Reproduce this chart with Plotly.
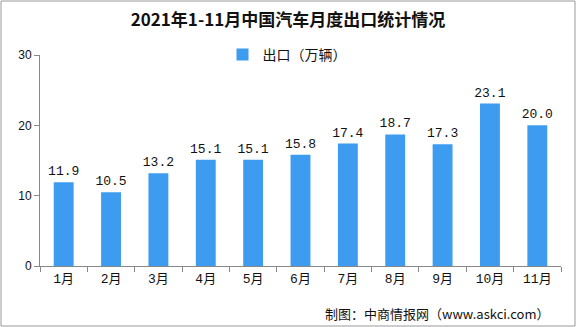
import plotly.graph_objects as go

months = ["1月", "2月", "3月", "4月", "5月", "6月", "7月", "8月", "9月", "10月", "11月"]
exports = [11.9, 10.5, 13.2, 15.1, 15.1, 15.8, 17.4, 18.7, 17.3, 23.1, 20.0]
y_ticks = [0, 10, 20, 30]

W, H = 576, 327
ML, MR, MT, MB = 40, 15, 55, 61
pw, ph = W - ML - MR, H - MT - MB

fig = go.Figure()
fig.add_trace(go.Bar(
    x=months, y=exports, name="出口（万辆）",
    marker=dict(color="#3D9CF0", line=dict(width=0)),
    width=0.42,
    text=[f"{v:.1f}" for v in exports], textposition="outside",
    constraintext="none",
    textfont=dict(family="Liberation Mono, DejaVu Sans Mono", size=13, color="#111"),
    cliponaxis=False,
))

fig.update_layout(
    width=W, height=H,
    margin=dict(l=ML, r=MR, t=MT, b=MB),
    paper_bgcolor="white", plot_bgcolor="white",
    title=dict(text="<b>2021年1-11月中国汽车月度出口统计情况</b>",
               x=0.5, xanchor="center", y=1 - 20 / H, yanchor="middle",
               font=dict(family="Noto Sans CJK SC", size=17, color="#111")),
    showlegend=True,
    legend=dict(orientation="h", x=(287 - ML) / pw, xanchor="center", y=1 + 0 / ph, yanchor="middle",
                font=dict(family="Noto Sans CJK SC", size=14, color="#111"),
                itemwidth=30, bgcolor="rgba(0,0,0,0)"),
    xaxis=dict(showline=True, linecolor="#888", linewidth=1,
               ticks="outside", ticklen=5, tickcolor="#888", tickson="boundaries",
               tickfont=dict(family="Liberation Mono, Noto Sans CJK SC", size=13, color="#111"),
               showgrid=False),
    yaxis=dict(range=[0, 30], tickvals=y_ticks, showline=True, linecolor="#888", linewidth=1,
               ticks="outside", ticklen=5, tickcolor="#888",
               tickfont=dict(family="Liberation Sans", size=12, color="#111"),
               showgrid=False, zeroline=False),
    bargap=0.58,
)

fig.add_annotation(text="制图：中商情报网（www.askci.com）", xref="paper", yref="paper",
                   x=(552 - ML) / pw, xanchor="right", y=-(313 - MT - ph) / ph, yanchor="middle",
                   showarrow=False,
                   font=dict(family="Noto Sans CJK SC", size=13, color="#111"))

fig.add_shape(type="rect", xref="paper", yref="paper",
              x0=-(ML - 1) / pw, x1=1 + (MR - 1) / pw,
              y0=-(MB - 1) / ph, y1=1 + (MT - 1) / ph,
              line=dict(color="#999", width=1), layer="below")

fig.write_html("out.html")
